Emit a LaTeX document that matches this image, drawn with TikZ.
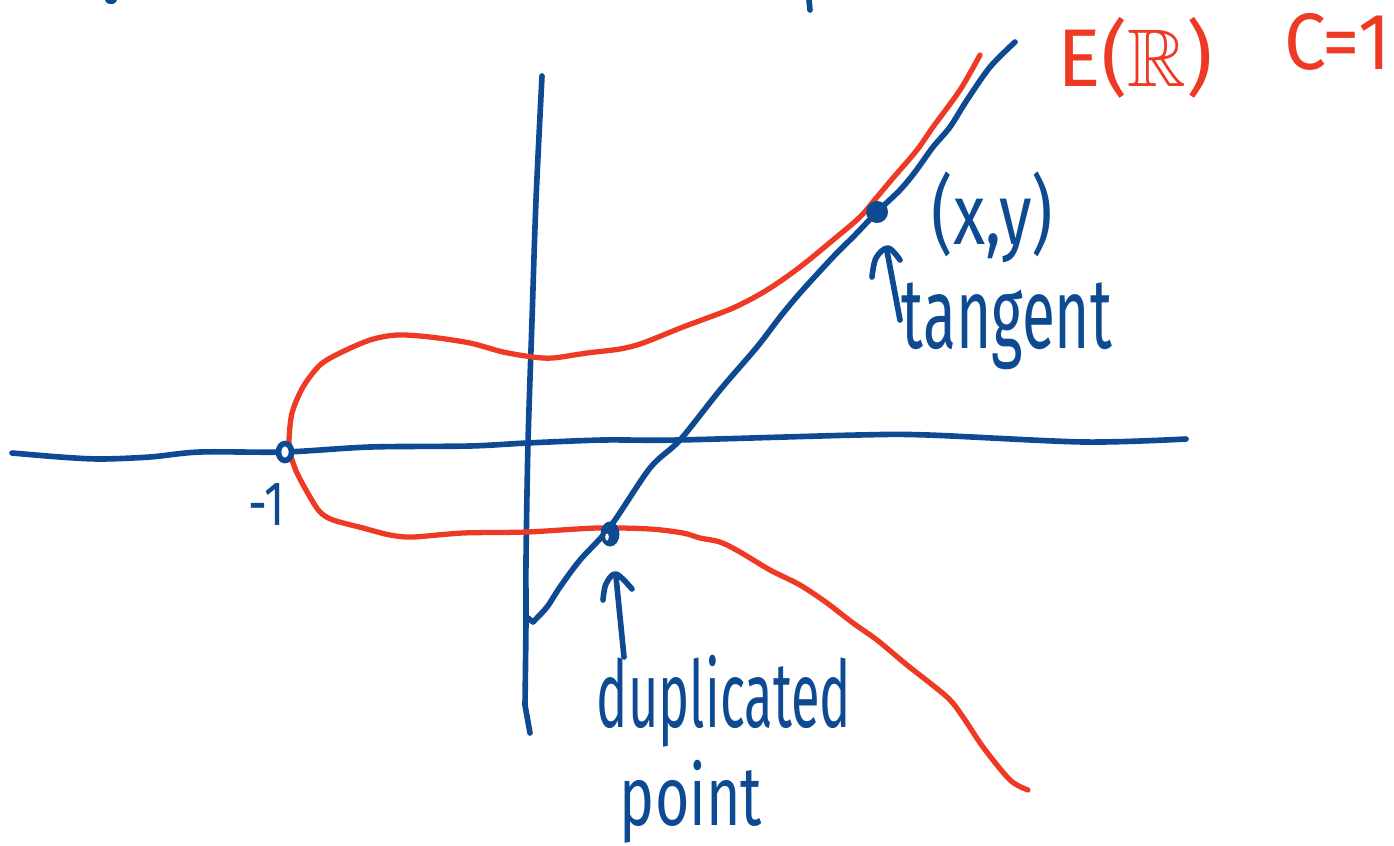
\documentclass[tikz,border=0pt]{standalone}
\usepackage{fontspec}
\usepackage{graphicx}
\usepackage{amssymb}
\setmainfont{Fira Sans}
\definecolor{inkblue}{RGB}{14,74,146}
\definecolor{inkred}{RGB}{238,58,36}
\newcommand\fitto[3]{\resizebox*{#1}{#2}{#3}}
\begin{document}
\begin{tikzpicture}[x=0.01cm,y=-0.01cm,
  blueline/.style={draw=inkblue,line width=1.6pt,line cap=round,line join=round},
  redline/.style={draw=inkred,line width=1.5pt,line cap=round,line join=round},
  bluelbl/.style={inner sep=0pt,outer sep=0pt,text=inkblue,anchor=center},
  redlbl/.style={inner sep=0pt,outer sep=0pt,text=inkred,anchor=center},
  dotmark/.style={fill=inkblue,draw=none}]
\useasboundingbox (0,0) rectangle (1394,845);

% fragments at the top edge
\fill[inkblue] (111,0) ellipse [x radius=6, y radius=4];
\draw[blueline] (809,0) -- (810,10);

% horizontal axis
\draw[blueline] plot[smooth,tension=0.5] coordinates {(12,453) (60,457) (100,459) (150,457) (200,452) (285,452) (370,447) (470,446) (527,443) (603,440) (678,440) (858,435) (928,435) (1084,442) (1186,439)};

% vertical axis
\draw[blueline] plot[smooth,tension=0.5] coordinates {(542,76) (536,200) (532,320) (528,443) (526,560) (526,620) (525,705)} -- (530,733);

% elliptic curve E(R)
\draw[redline] plot[smooth,tension=0.5] coordinates {(980,55) (960,90) (933,127) (917,150) (893,178) (877,197) (860,217) (833,240) (800,267) (767,290) (733,308) (683,327) (643,343) (620,349) (587,353) (553,358) (533,357) (503,352) (470,343) (430,337) (397,335) (370,340) (340,353) (320,365) (303,387) (292,413) (289,440) (290,453) (297,473) (310,497) (320,512) (333,520) (363,528) (390,535) (413,537) (463,533) (527,532) (597,528) (650,529) (683,533) (700,538) (720,542) (740,552) (770,570) (800,585) (827,603) (853,623) (877,640) (907,665) (947,697) (963,717) (983,747) (1010,780) (1028,790)};

% tangent line
\draw[blueline] plot[smooth,tension=0.5] coordinates {(1015,42) (990,67) (967,100) (950,127) (933,147) (915,172) (900,190) (877,212) (855,235) (833,257) (800,293) (780,317) (757,347) (720,390) (680,440) (650,468) (610,527) (580,560) (560,587) (547,607) (533,622)} -- (528,618);

% marked points
\draw[inkblue,line width=1.6pt,fill=white] (285,452) ellipse [x radius=6.5,y radius=8.5];
\coordinate (m1) at (285,452);
\node (xy) [dotmark,circle,minimum size=0.22cm,inner sep=0pt] at (877,212) {};
\fill[inkblue] (610,534) ellipse [x radius=9.5,y radius=12.5];
\fill[white] (607,537) ellipse [x radius=1.8,y radius=3.5];
\coordinate (dup) at (610,534);

% arrows
\draw[blueline] (900,320) -- (887,251);
\draw[blueline] plot[smooth,tension=0.6] coordinates {(872,277) (876,258) (888,248) (900,260)};
\draw[blueline] (624,657) -- (616,577);
\draw[blueline] plot[smooth,tension=0.6] coordinates {(603,600) (606,584) (616,574) (632,589)};

% labels
\node (lxy) [bluelbl] at (992.5,217.5) {\fitto{1.21cm}{0.91cm}{(x,y)}};
\node (ltan) [bluelbl] at (1007,326.5) {\fitto{2.10cm}{0.87cm}{tangent}};
\node (ldup) [bluelbl] at (724,701) {\fitto{2.54cm}{0.92cm}{duplicated}};
\node (lpt) [bluelbl] at (691,801.5) {\fitto{1.42cm}{0.83cm}{point}};
\node (lm1) [bluelbl] at (267,504) {\fitto{0.36cm}{0.42cm}{-1}};
\node (lE) [redlbl] at (1135.5,57.5) {\fitto{1.55cm}{0.81cm}{E(\(\mathbb{R}\))}};
\node (lC) [redlbl] at (1338,41.5) {\fitto{1.06cm}{0.57cm}{C=1}};
\end{tikzpicture}
\end{document}
